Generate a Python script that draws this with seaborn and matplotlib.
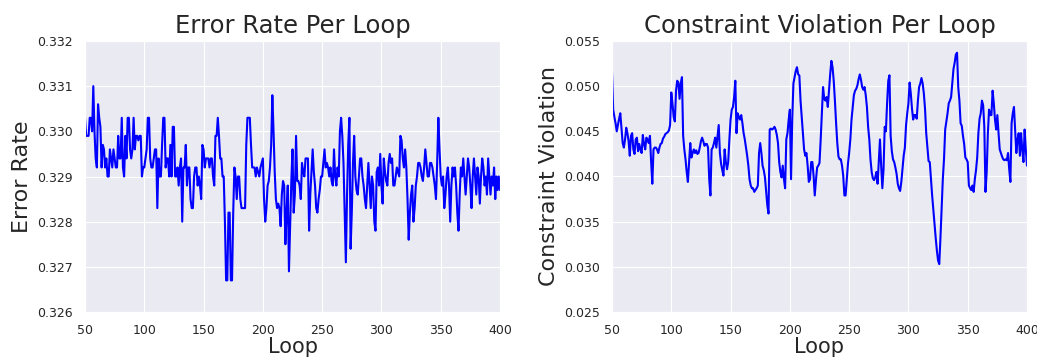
import numpy as np
import matplotlib
matplotlib.use("Agg")
import matplotlib.pyplot as plt
from matplotlib.ticker import FormatStrFormatter
import seaborn as sns

# loops 50..400, one value per loop
error_rate = [
    0.3303, 0.3299, 0.3299, 0.3299, 0.3303, 0.3303, 0.3300, 0.3310, 0.3300, 0.3294,
    0.3292, 0.3306, 0.3303, 0.3301, 0.3292, 0.3297, 0.3296, 0.3292, 0.3294, 0.3290,
    0.3290, 0.3296, 0.3294, 0.3292, 0.3296, 0.3294, 0.3292, 0.3292, 0.3299, 0.3294,
    0.3294, 0.3303, 0.3292, 0.3290, 0.3299, 0.3294, 0.3303, 0.3303, 0.3296, 0.3294,
    0.3296, 0.3303, 0.3296, 0.3299, 0.3299, 0.3298, 0.3299, 0.3299, 0.3290, 0.3292,
    0.3292, 0.3294, 0.3296, 0.3303, 0.3303, 0.3294, 0.3292, 0.3292, 0.3294, 0.3296,
    0.3296, 0.3283, 0.3294, 0.3290, 0.3290, 0.3297, 0.3303, 0.3303, 0.3292, 0.3294,
    0.3294, 0.3290, 0.3297, 0.3290, 0.3301, 0.3301, 0.3290, 0.3290, 0.3292, 0.3288,
    0.3292, 0.3294, 0.3280, 0.3292, 0.3292, 0.3297, 0.3288, 0.3292, 0.3292, 0.3285,
    0.3283, 0.3283, 0.3290, 0.3292, 0.3292, 0.3288, 0.3290, 0.3288, 0.3285, 0.3297,
    0.3296, 0.3292, 0.3294, 0.3294, 0.3294, 0.3292, 0.3294, 0.3294, 0.3290, 0.3288,
    0.3299, 0.3299, 0.3303, 0.3299, 0.3294, 0.3294, 0.3290, 0.3290, 0.3280, 0.3267,
    0.3267, 0.3282, 0.3282, 0.3267, 0.3267, 0.3282, 0.3292, 0.3290, 0.3285, 0.3290,
    0.3290, 0.3285, 0.3283, 0.3283, 0.3283, 0.3283, 0.3297, 0.3303, 0.3303, 0.3303,
    0.3297, 0.3292, 0.3292, 0.3292, 0.3290, 0.3292, 0.3291, 0.3290, 0.3292, 0.3293,
    0.3294, 0.3285, 0.3280, 0.3283, 0.3288, 0.3289, 0.3292, 0.3297, 0.3308, 0.3300,
    0.3291, 0.3285, 0.3283, 0.3284, 0.3283, 0.3279, 0.3286, 0.3289, 0.3288, 0.3275,
    0.3282, 0.3288, 0.3269, 0.3279, 0.3289, 0.3296, 0.3282, 0.3286, 0.3299, 0.3289,
    0.3289, 0.3288, 0.3285, 0.3293, 0.3291, 0.3290, 0.3294, 0.3294, 0.3294, 0.3278,
    0.3286, 0.3291, 0.3296, 0.3291, 0.3288, 0.3283, 0.3282, 0.3285, 0.3287, 0.3290,
    0.3290, 0.3293, 0.3296, 0.3292, 0.3293, 0.3292, 0.3290, 0.3292, 0.3289, 0.3288,
    0.3296, 0.3290, 0.3288, 0.3292, 0.3290, 0.3300, 0.3303, 0.3299, 0.3293, 0.3282,
    0.3271, 0.3286, 0.3297, 0.3303, 0.3274, 0.3282, 0.3293, 0.3299, 0.3290, 0.3287,
    0.3286, 0.3290, 0.3294, 0.3294, 0.3290, 0.3288, 0.3285, 0.3283, 0.3288, 0.3293,
    0.3288, 0.3283, 0.3290, 0.3288, 0.3280, 0.3278, 0.3291, 0.3292, 0.3288, 0.3295,
    0.3288, 0.3284, 0.3294, 0.3291, 0.3289, 0.3288, 0.3293, 0.3295, 0.3293, 0.3294,
    0.3288, 0.3288, 0.3290, 0.3292, 0.3291, 0.3290, 0.3299, 0.3298, 0.3294, 0.3292,
    0.3296, 0.3292, 0.3285, 0.3276, 0.3282, 0.3286, 0.3288, 0.3280, 0.3283, 0.3288,
    0.3290, 0.3293, 0.3293, 0.3292, 0.3290, 0.3289, 0.3292, 0.3296, 0.3293, 0.3290,
    0.3290, 0.3293, 0.3293, 0.3292, 0.3290, 0.3288, 0.3285, 0.3293, 0.3303, 0.3296,
    0.3290, 0.3288, 0.3290, 0.3283, 0.3286, 0.3290, 0.3292, 0.3288, 0.3280, 0.3288,
    0.3292, 0.3290, 0.3292, 0.3288, 0.3282, 0.3278, 0.3286, 0.3292, 0.3290, 0.3294,
    0.3290, 0.3286, 0.3290, 0.3294, 0.3292, 0.3288, 0.3283, 0.3290, 0.3294, 0.3290,
    0.3286, 0.3292, 0.3290, 0.3284, 0.3290, 0.3294, 0.3292, 0.3288, 0.3290, 0.3286,
    0.3294, 0.3290, 0.3286, 0.3290, 0.3288, 0.3292, 0.3285, 0.3290, 0.3287, 0.3290,
    0.3287,
]

violation = [
    0.0515, 0.0474, 0.0466, 0.0459, 0.0450, 0.0457, 0.0464, 0.0470, 0.0453, 0.0437,
    0.0432, 0.0441, 0.0454, 0.0448, 0.0439, 0.0423, 0.0445, 0.0448, 0.0430, 0.0425,
    0.0441, 0.0443, 0.0428, 0.0436, 0.0430, 0.0426, 0.0446, 0.0436, 0.0430, 0.0443,
    0.0441, 0.0437, 0.0445, 0.0416, 0.0392, 0.0430, 0.0432, 0.0432, 0.0430, 0.0426,
    0.0432, 0.0436, 0.0437, 0.0442, 0.0444, 0.0447, 0.0448, 0.0449, 0.0451, 0.0457,
    0.0493, 0.0481, 0.0466, 0.0461, 0.0495, 0.0506, 0.0504, 0.0486, 0.0503, 0.0510,
    0.0445, 0.0430, 0.0419, 0.0405, 0.0394, 0.0416, 0.0437, 0.0421, 0.0426, 0.0430,
    0.0426, 0.0429, 0.0425, 0.0426, 0.0432, 0.0439, 0.0443, 0.0439, 0.0434, 0.0436,
    0.0436, 0.0432, 0.0397, 0.0379, 0.0430, 0.0432, 0.0437, 0.0443, 0.0432, 0.0445,
    0.0457, 0.0426, 0.0414, 0.0407, 0.0401, 0.0430, 0.0416, 0.0408, 0.0416, 0.0441,
    0.0463, 0.0474, 0.0477, 0.0488, 0.0506, 0.0448, 0.0470, 0.0466, 0.0463, 0.0468,
    0.0459, 0.0448, 0.0441, 0.0432, 0.0423, 0.0412, 0.0397, 0.0390, 0.0387, 0.0387,
    0.0383, 0.0385, 0.0387, 0.0390, 0.0426, 0.0437, 0.0426, 0.0412, 0.0407, 0.0399,
    0.0383, 0.0368, 0.0359, 0.0452, 0.0453, 0.0452, 0.0453, 0.0455, 0.0452, 0.0446,
    0.0437, 0.0416, 0.0405, 0.0399, 0.0412, 0.0397, 0.0387, 0.0441, 0.0448, 0.0463,
    0.0474, 0.0397, 0.0463, 0.0503, 0.0510, 0.0517, 0.0521, 0.0513, 0.0512, 0.0484,
    0.0466, 0.0448, 0.0430, 0.0423, 0.0426, 0.0412, 0.0394, 0.0397, 0.0416, 0.0416,
    0.0401, 0.0379, 0.0396, 0.0410, 0.0412, 0.0415, 0.0441, 0.0470, 0.0499, 0.0486,
    0.0484, 0.0488, 0.0477, 0.0495, 0.0513, 0.0528, 0.0521, 0.0506, 0.0484, 0.0459,
    0.0437, 0.0422, 0.0419, 0.0419, 0.0412, 0.0401, 0.0379, 0.0379, 0.0397, 0.0414,
    0.0426, 0.0441, 0.0463, 0.0477, 0.0490, 0.0495, 0.0497, 0.0501, 0.0508, 0.0513,
    0.0507, 0.0499, 0.0496, 0.0499, 0.0490, 0.0477, 0.0455, 0.0441, 0.0419, 0.0405,
    0.0398, 0.0396, 0.0399, 0.0405, 0.0392, 0.0416, 0.0441, 0.0412, 0.0387, 0.0408,
    0.0455, 0.0450, 0.0481, 0.0506, 0.0512, 0.0445, 0.0428, 0.0419, 0.0416, 0.0410,
    0.0403, 0.0392, 0.0387, 0.0384, 0.0394, 0.0408, 0.0423, 0.0432, 0.0457, 0.0470,
    0.0481, 0.0504, 0.0492, 0.0475, 0.0463, 0.0468, 0.0468, 0.0464, 0.0484, 0.0499,
    0.0503, 0.0509, 0.0503, 0.0492, 0.0475, 0.0448, 0.0432, 0.0417, 0.0416, 0.0397,
    0.0379, 0.0363, 0.0347, 0.0332, 0.0318, 0.0307, 0.0303, 0.0332, 0.0365, 0.0397,
    0.0419, 0.0452, 0.0461, 0.0470, 0.0481, 0.0484, 0.0488, 0.0503, 0.0519, 0.0526,
    0.0535, 0.0537, 0.0499, 0.0484, 0.0459, 0.0456, 0.0445, 0.0436, 0.0421, 0.0419,
    0.0416, 0.0390, 0.0387, 0.0385, 0.0390, 0.0383, 0.0397, 0.0407, 0.0421, 0.0448,
    0.0464, 0.0470, 0.0484, 0.0479, 0.0455, 0.0383, 0.0405, 0.0448, 0.0474, 0.0468,
    0.0468, 0.0495, 0.0481, 0.0463, 0.0452, 0.0468, 0.0448, 0.0430, 0.0426, 0.0422,
    0.0419, 0.0418, 0.0419, 0.0418, 0.0426, 0.0408, 0.0394, 0.0459, 0.0470, 0.0477,
    0.0452, 0.0426, 0.0441, 0.0448, 0.0423, 0.0448, 0.0430, 0.0416, 0.0452, 0.0430,
    0.0412,
]

loops = np.arange(50, 50 + len(error_rate))
loops2 = np.arange(50, 50 + len(violation))

sns.set_style("darkgrid")
plt.rcParams['font.family'] = ['DejaVu Sans']

fig = plt.figure(figsize=(10.37, 3.6), dpi=100)
ax1 = fig.add_axes([85 / 1037, 48 / 360, 415 / 1037, 271 / 360])
ax2 = fig.add_axes([612 / 1037, 48 / 360, 415 / 1037, 271 / 360])

sns.lineplot(x=loops, y=error_rate, ax=ax1, color='blue', linewidth=1.5)
ax1.set_xlim(50, 400)
ax1.set_ylim(0.326, 0.332)
ax1.set_yticks(np.arange(0.326, 0.33201, 0.001))
ax1.yaxis.set_major_formatter(FormatStrFormatter('%.3f'))
ax1.set_title("Error Rate Per Loop", fontsize=17.5, color='#262626')
ax1.set_xlabel("Loop", fontsize=15, labelpad=0)
ax1.set_ylabel("Error Rate", fontsize=16)

sns.lineplot(x=loops2, y=violation, ax=ax2, color='blue', linewidth=1.5)
ax2.set_xlim(50, 400)
ax2.set_ylim(0.025, 0.055)
ax2.set_yticks(np.arange(0.025, 0.05501, 0.005))
ax2.yaxis.set_major_formatter(FormatStrFormatter('%.3f'))
ax2.set_title("Constraint Violation Per Loop", fontsize=17.5, color='#262626')
ax2.set_xlabel("Loop", fontsize=15, labelpad=0)
ax2.set_ylabel("Constraint Violation", fontsize=16)

for ax in (ax1, ax2):
    ax.set_xticks(np.arange(50, 401, 50))
    ax.tick_params(labelsize=9, pad=5)

fig.savefig("out.png", dpi=100)
